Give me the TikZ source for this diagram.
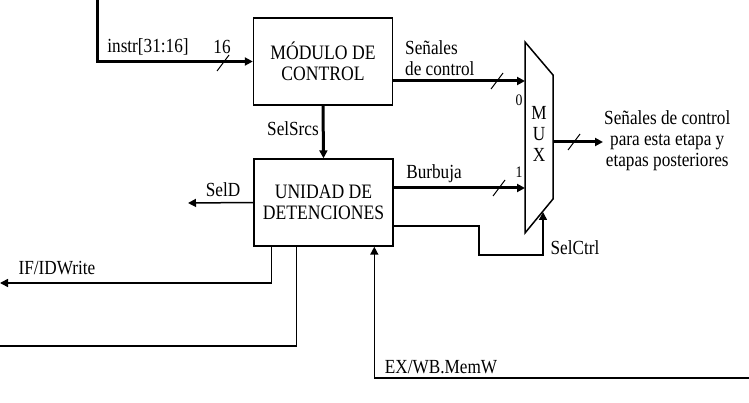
\documentclass[tikz,border=0pt]{standalone}
\usepackage{fontspec}
\setmainfont{Liberation Serif}[FakeStretch=0.86]
\usetikzlibrary{arrows.meta,calc}
\begin{document}
\begin{tikzpicture}[x=1pt,y=-1pt,>={Triangle[length=8pt,width=8pt]},
  box/.style={draw,line width=1.4pt,minimum width=139pt,minimum height=87pt,
    align=center,font=\fontsize{20.5}{21.5}\selectfont},
  bus/.style={line width=3pt},
  sig/.style={line width=1.5pt},
  lbl/.style={font=\fontsize{20}{21}\selectfont,inner sep=1pt}]
\useasboundingbox (0,0) rectangle (749,403);
% bloques
\node[box] (ctrl) at (323,61.5) {MÓDULO DE\\CONTROL};
\node[box] (det) at (323.5,202.5) {UNIDAD DE\\DETENCIONES};
% multiplexor
\draw[sig] (525,42) -- (553,75) -- (553,199) -- (525,233) -- cycle;
\node[lbl,align=center] (mux) at (539,134) {M\\U\\X};
\coordinate (mux0) at (525,81);
\coordinate (mux1) at (525,188);
\coordinate (muxout) at (553,142);
\coordinate (muxsel) at (543,212);
\node[lbl,font=\fontsize{16}{16}\selectfont] (in0) at (519,100) {0};
\node[lbl,font=\fontsize{16}{16}\selectfont] (in1) at (519,172) {1};
% buses
\coordinate (instr) at (97,0);
\draw[bus,->] (instr) |- (ctrl.west);
\draw[bus,->] (ctrl.east |- mux0) -- (mux0);
\draw[bus,->] (det.east |- mux1) -- (mux1);
\draw[bus,->] (ctrl.south) -- (det.north);
\node[lbl,align=center,anchor=west] (out) at (603,141)
  {Señales de control\\para esta etapa y\\etapas posteriores};
\draw[bus,->] (muxout) -- (muxout -| out.west);
\foreach \s in {(223,63),(497,81),(499,188),(574,142)}
  \draw[line width=1pt] \s ++(-6,8) -- ++(12,-16);
% senales
\coordinate (seld) at (188,203);
\coordinate (sel1) at (479,255);
\coordinate (ifid) at (0,283);
\coordinate (fwd) at (0,346);
\coordinate (memw) at (749,378);
\draw[sig,->] (det.west) -- (seld);
\draw[sig,->] ($(det.east)+(0,23.5)$) -| (sel1) -| (muxsel);
\draw[sig,->] ($(det.south west)+(18,0)$) |- (ifid);
\draw[sig] ($(det.south west)+(43,0)$) |- (fwd);
\draw[sig,->] (memw) -| ($(det.south west)+(121,0)$);
% etiquetas
\node[lbl] (linstr) at (148,47) {instr[31:16]};
\node[lbl] (lbits) at (222,47) {16};
\node[lbl,align=left,anchor=west] (lctrl) at (404,58) {Señales\\de control};
\node[lbl] (lsrcs) at (293,129) {SelSrcs};
\node[lbl] (lburb) at (434,174) {Burbuja};
\node[lbl] (lseld) at (223,190) {SelD};
\node[lbl] (lsel) at (575,248) {SelCtrl};
\node[lbl] (lifid) at (57,268) {IF/IDWrite};
\node[lbl] (lmemw) at (441,367) {EX/WB.MemW};
\end{tikzpicture}
\end{document}
